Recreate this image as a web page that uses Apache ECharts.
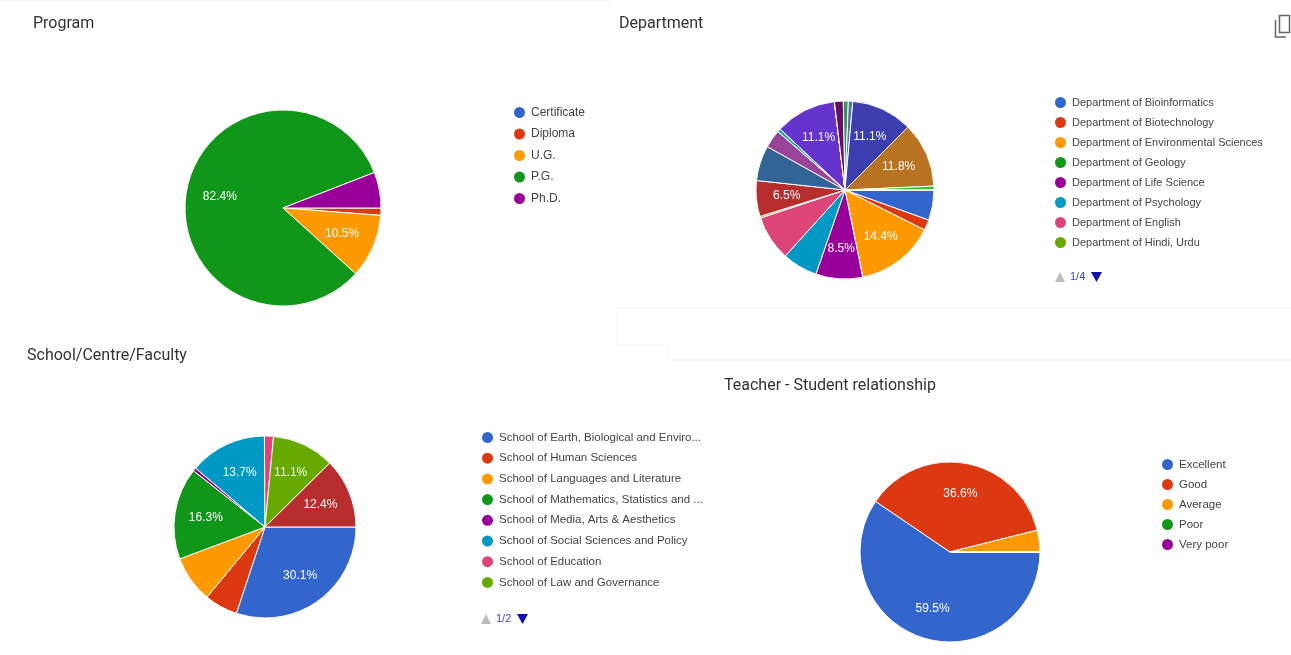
<!DOCTYPE html>
<html>
<head>
	<meta http-equiv="Content-Type" content="text/html;charset=utf-8">
	<title>Survey charts</title>
	<script src="https://cdn.jsdelivr.net/npm/echarts@6/dist/echarts.min.js"></script>
	<style>
		html, body{
			margin: 0;
			padding: 0;
			background: #fff;
		}
		#chart{
			width: 1291px;
			height: 655px;
		}
	</style>
</head>
<body>
<div id="chart"></div>
<script>
	// google forms palette
	var colors = ['#3366cc','#dc3912','#ff9900','#109618','#990099','#0099c6','#dd4477','#66aa00',
		'#b82e2e','#316395','#994499','#22aa99','#aaaa11','#6633cc','#e67300','#8b0707',
		'#651067','#329262','#5574a6','#3b3eac','#b77322','#16d620','#b91383','#f4359e',
		'#9c5935','#a9c413'];

	var programNames = ['Certificate','Diploma','U.G.','P.G.','Ph.D.'];
	var programValues = [0, 1.2, 10.5, 82.4, 5.9];
	var programLabeled = ['U.G.','P.G.'];

	var deptNames = [
		'Department of Bioinformatics',
		'Department of Biotechnology',
		'Department of Environmental Sciences',
		'Department of Geology',
		'Department of Life Science',
		'Department of Psychology',
		'Department of English',
		'Department of Hindi, Urdu',
		'Department of Chemistry',
		'Department of Physics',
		'Department of Mathematics',
		'Department of Statistics',
		'Department of Computer Science',
		'Department of Economics',
		'Department of Political Science',
		'Department of Sociology',
		'Department of History',
		'Department of Mass Communication',
		'Department of Fine Arts',
		'Department of Education',
		'Department of Law',
		'Department of Management',
		'Department of Commerce',
		'Department of Geography',
		'Department of Philosophy',
		'Department of Social Work'
	];
	var deptValues = [5.5, 1.9, 14.4, 0, 8.5, 6.4, 8.2, 0.3, 6.5, 6.4, 3.3, 0.6, 0,
		11.1, 0, 0, 1.6, 0.9, 0.8, 11.1, 11.8, 0.7, 0, 0, 0, 0];
	var deptLabeled = ['Department of Environmental Sciences','Department of Life Science',
		'Department of Chemistry','Department of Economics','Department of Education','Department of Law'];

	var schoolNames = [
		'School of Earth, Biological and Environmental Sciences',
		'School of Human Sciences',
		'School of Languages and Literature',
		'School of Mathematics, Statistics and Computational Sciences',
		'School of Media, Arts & Aesthetics',
		'School of Social Sciences and Policy',
		'School of Education',
		'School of Law and Governance',
		'School of Physical and Chemical Sciences'
	];
	var schoolValues = [30.1, 5.9, 8.3, 16.3, 0.6, 13.7, 1.6, 11.1, 12.4];
	var schoolLabeled = [schoolNames[0], schoolNames[3], schoolNames[5], schoolNames[7], schoolNames[8]];

	var teacherNames = ['Excellent','Good','Average','Poor','Very poor'];
	var teacherValues = [59.5, 36.6, 3.9, 0, 0];
	var teacherLabeled = ['Excellent','Good'];

	var titles = ['Program','Department','School/Centre/Faculty','Teacher - Student relationship'];

	var perPage = 8;
	var fontFamily = '"Liberation Sans", Arial, sans-serif';

	// two series per pie: the slices, and a transparent ring that only carries the labels
	function makePie(names, values, labeled, center, r){
		var data = names.map(function(n, i){
			return {name: n, value: values[i], itemStyle: {color: colors[i]}};
		});
		var base = {
			type: 'pie',
			center: center,
			radius: [0, r],
			startAngle: 0,
			clockwise: true,
			percentPrecision: 1,
			avoidLabelOverlap: false,
			label: {show: false},
			labelLine: {show: false},
			emphasis: {scale: false},
			animation: false,
			itemStyle: {borderColor: '#fff', borderWidth: 1},
			data: data
		};
		var labels = {
			type: 'pie',
			center: center,
			radius: [r * 0.25, r],
			startAngle: 0,
			clockwise: true,
			percentPrecision: 1,
			silent: true,
			avoidLabelOverlap: false,
			animation: false,
			itemStyle: {color: 'rgba(0,0,0,0)', borderWidth: 0},
			label: {
				show: true,
				position: 'inside',
				color: '#fff',
				fontSize: 12,
				fontFamily: fontFamily,
				formatter: function(p){
					return labeled.indexOf(p.name) >= 0 ? p.percent.toFixed(1) + '%' : '';
				}
			},
			labelLine: {show: false},
			data: names.map(function(n, i){ return {name: n, value: values[i]}; })
		};
		return [base, labels];
	}

	function makeLegend(names, left, top, gap, size, textGap, width){
		var ts = {color: '#444', fontSize: size, fontFamily: fontFamily, lineHeight: 12};
		if(width){
			ts.width = width;
			ts.overflow = 'truncate';
			ts.ellipsis = '...';
		}
		return {
			orient: 'vertical',
			left: left,
			top: top,
			padding: 0,
			icon: 'circle',
			itemWidth: 13,
			itemHeight: 13,
			itemGap: gap,
			itemTextGap: textGap,
			selectedMode: false,
			textStyle: ts,
			data: names.slice(0, perPage)
		};
	}

	function makePager(names, x, y){
		var pages = Math.ceil(names.length / perPage);
		return [
			{type: 'polygon', shape: {points: [[x, y + 5], [x + 10, y + 5], [x + 5, y - 5]]}, style: {fill: '#bdbdbd'}},
			{type: 'text', left: x + 15, top: y - 6, style: {text: '1/' + pages, fill: '#3b4cc0', fontSize: 11, fontFamily: fontFamily}},
			{type: 'polygon', shape: {points: [[x + 36, y - 5], [x + 47, y - 5], [x + 41.5, y + 5]]}, style: {fill: '#1010b0'}}
		];
	}

	function titleItem(text, left, top){
		return {
			text: text,
			left: left,
			top: top,
			padding: 0,
			textStyle: {color: '#333', fontSize: 16, fontWeight: 'normal', fontFamily: 'Roboto, sans-serif'}
		};
	}

	var series = []
		.concat(makePie(programNames, programValues, programLabeled, [283, 208], 98))
		.concat(makePie(deptNames, deptValues, deptLabeled, [845, 190], 89))
		.concat(makePie(schoolNames, schoolValues, schoolLabeled, [265, 527], 91))
		.concat(makePie(teacherNames, teacherValues, teacherLabeled, [950, 552], 90));

	var graphics = []
		.concat(makePager(deptNames, 1055, 277))
		.concat(makePager(schoolNames, 481, 619))
		.concat([
			// copy icon
			{type: 'rect', shape: {x: 1279.5, y: 15.5, width: 10, height: 17}, style: {fill: 'none', stroke: '#666', lineWidth: 1.5}},
			{type: 'polyline', shape: {points: [[1275.5, 20], [1275.5, 37], [1286, 37]]}, style: {stroke: '#666', lineWidth: 1.5, fill: 'none'}},
			// faint card edges
			{type: 'polyline', shape: {points: [[0, 1], [610, 1]]}, style: {stroke: '#f0f0f0', lineWidth: 1}},
			{type: 'polyline', shape: {points: [[1291, 308], [617, 308], [617, 345], [668, 345], [668, 360], [1291, 360]]}, style: {stroke: '#f4f4f4', lineWidth: 1, fill: 'none'}}
		]);

	var option = {
		backgroundColor: '#fff',
		animation: false,
		title: [
			titleItem(titles[0], 33, 16),
			titleItem(titles[1], 619, 16),
			titleItem(titles[2], 27, 348),
			titleItem(titles[3], 724, 378)
		],
		legend: [
			makeLegend(programNames, 512, 105, 6.5, 12, 7),
			makeLegend(deptNames, 1053, 95, 5, 11, 5),
			makeLegend(schoolNames, 480, 430, 5.7, 11.5, 5, 210),
			makeLegend(teacherNames, 1160, 457, 5, 11.5, 3)
		],
		graphic: graphics,
		series: series
	};

	var myChart = echarts.init(document.getElementById('chart'));
	myChart.setOption(option);
</script>
</body>
</html>
